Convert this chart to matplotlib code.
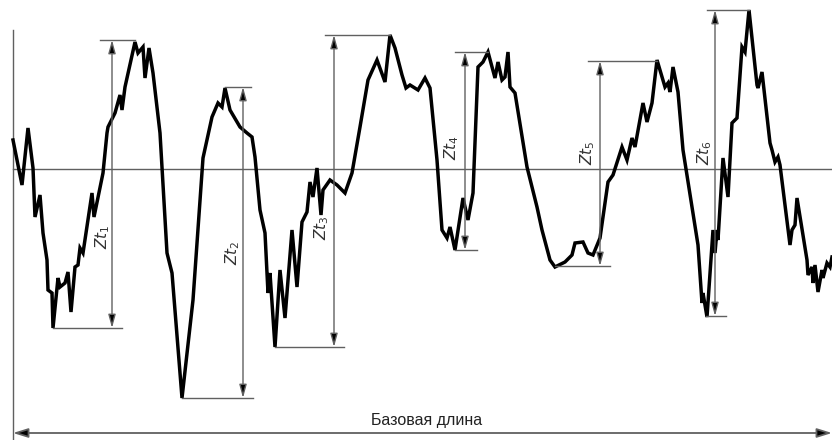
import matplotlib
matplotlib.use("Agg")
import matplotlib.pyplot as plt

# Profile (pixel-like units, y grows downwards)
profile_x = [13, 22, 28, 33, 35, 40, 43, 47, 48, 52, 53, 58, 60, 65, 68, 71, 75, 78, 80, 83,
             92, 94, 103, 107, 108, 115, 120, 122, 125, 135, 138, 143, 145, 149, 153, 160,
             167, 172, 182, 193, 203, 212, 218, 222, 225, 230, 237, 240, 247, 252, 255, 260,
             265, 268, 270, 275, 280, 285, 292, 297, 302, 307, 310, 313, 317, 321, 323, 330,
             337, 345, 352, 360, 368, 377, 385, 390, 395, 402, 406, 410, 418, 425, 430, 437,
             442, 447, 450, 455, 463, 468, 473, 478, 483, 488, 495, 498, 502, 505, 508, 510,
             515, 527, 537, 542, 550, 555, 565, 572, 575, 583, 588, 593, 600, 608, 613, 622,
             627, 632, 635, 643, 647, 652, 657, 665, 668, 670, 673, 678, 683, 698, 702, 703,
             707, 713, 715, 717, 718, 723, 728, 732, 737, 742, 745, 749, 757, 758, 762, 770,
             772, 775, 778, 780, 790, 792, 795, 797, 807, 808, 812, 813, 815, 818, 822, 823,
             827, 830, 832]
profile_y = [140, 185, 128, 168, 217, 195, 233, 260, 290, 293, 328, 278, 287, 283, 272, 312,
             267, 265, 248, 253, 193, 217, 173, 133, 127, 113, 95, 110, 87, 42, 53, 47, 78,
             48, 73, 133, 253, 273, 398, 300, 158, 117, 103, 107, 88, 110, 122, 127, 133, 137,
             157, 210, 233, 293, 273, 347, 270, 318, 230, 287, 222, 212, 182, 197, 168, 215,
             190, 180, 185, 193, 173, 127, 80, 60, 82, 35, 48, 75, 88, 85, 90, 78, 88, 160,
             230, 238, 227, 250, 198, 220, 193, 67, 62, 52, 78, 62, 80, 77, 52, 87, 93, 167,
             207, 230, 260, 267, 262, 255, 243, 242, 253, 255, 238, 182, 175, 147, 160, 138,
             147, 103, 122, 103, 60, 87, 83, 92, 67, 92, 150, 245, 303, 293, 317, 230, 253,
             230, 240, 158, 197, 123, 118, 47, 52, 10, 85, 88, 72, 143, 150, 162, 157, 165,
             245, 230, 225, 198, 260, 275, 267, 283, 265, 292, 270, 278, 263, 267, 257]

# Zt measurements: x of the dimension line, top and bottom of each element
zt_names = ["1", "2", "3", "4", "5", "6"]
zt_x = [112, 243, 334, 465, 600, 715]
zt_top = [40, 87, 35, 52, 61, 10]
zt_bottom = [328, 398, 347, 250, 266, 316]
top_ext = [(100, 135), (225, 251), (325, 390), (455, 488), (588, 657), (707, 749)]
bot_ext = [(53, 122), (182, 253), (275, 344), (455, 477), (555, 610), (706, 726)]
label_pos = [(103, 237), (233, 253), (322, 228), (452, 148), (588, 153), (705, 153)]

mean_line_y = 169
base_y = 433

plt.rcParams["mathtext.fontset"] = "dejavusans"
fig = plt.figure(figsize=(8.32, 4.4), dpi=100)
ax = fig.add_axes([0, 0, 1, 1])
ax.set_xlim(0, 832)
ax.set_ylim(440, 0)
ax.axis("off")

thin = "#606060"
# mean line and left border
ax.plot([13, 832], [mean_line_y, mean_line_y], color=thin, lw=1.0)
ax.plot([13, 13], [30, 440], color=thin, lw=1.0)

# profile
ax.plot(profile_x, profile_y, color="black", lw=2.5, solid_joinstyle="miter")

# Zt dimension lines
for i in range(len(zt_x)):
    ax.plot(top_ext[i], [zt_top[i]] * 2, color=thin, lw=1.0)
    ax.plot(bot_ext[i], [zt_bottom[i]] * 2, color=thin, lw=1.0)
    ax.annotate("", xy=(zt_x[i], zt_top[i]), xytext=(zt_x[i], zt_bottom[i]),
                arrowprops=dict(arrowstyle="<|-|>,head_length=0.8,head_width=0.22",
                                color=thin, lw=1.0, shrinkA=0, shrinkB=0,
                                fc="black"))
    ax.text(label_pos[i][0], label_pos[i][1], r"$Zt_{%s}$" % zt_names[i],
            rotation=90, ha="center", va="center", fontsize=11, color="#333333")

# base length arrow
ax.annotate("", xy=(13, base_y), xytext=(832, base_y),
            arrowprops=dict(arrowstyle="<|-|>,head_length=0.9,head_width=0.28",
                            color=thin, lw=1.3, shrinkA=0, shrinkB=0, fc="black"))
ax.text(427, 421, "Базовая длина", ha="center", va="center", fontsize=11.5,
        family="Liberation Sans", color="#222222")

fig.savefig("out.png", dpi=100)
